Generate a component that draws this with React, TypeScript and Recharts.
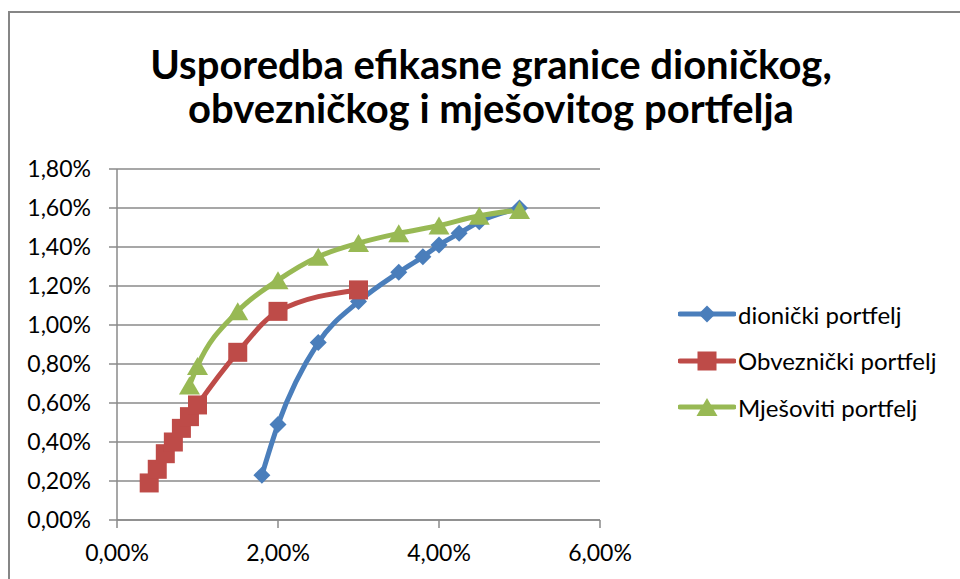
import { CartesianGrid, Line, LineChart, XAxis, YAxis } from 'recharts';

const xTicks = [0, 2, 4, 6];
const yTicks = [0, 0.2, 0.4, 0.6, 0.8, 1.0, 1.2, 1.4, 1.6, 1.8];

// rizik (x) i prinos (y), u postocima
const dionickiX = [1.8, 2.0, 2.5, 3.0, 3.5, 3.8, 4.0, 4.25, 4.5, 5.0];
const dionickiY = [0.23, 0.49, 0.91, 1.12, 1.27, 1.35, 1.41, 1.47, 1.53, 1.6];

const obveznickiX = [0.4, 0.5, 0.6, 0.7, 0.8, 0.9, 1.0, 1.5, 2.0, 3.0];
const obveznickiY = [0.19, 0.26, 0.34, 0.4, 0.47, 0.53, 0.59, 0.86, 1.07, 1.18];

const mjesovitiX = [0.9, 1.0, 1.5, 2.0, 2.5, 3.0, 3.5, 4.0, 4.5, 5.0];
const mjesovitiY = [0.69, 0.79, 1.07, 1.23, 1.35, 1.42, 1.47, 1.51, 1.56, 1.59];

const toPoints = (xs: number[], ys: number[]) => xs.map((x, i) => ({ x, y: ys[i] }));

const BLUE = '#4a7ebb';
const RED = '#be4b48';
const GREEN = '#98b954';
const GRID = '#8a8a8a';
const FONT = 'Lato, "Open Sans", sans-serif';

const fmt = (v: number) => v.toFixed(2).replace('.', ',') + '%';

type Shape = 'diamond' | 'square' | 'triangle';

function Marker({ cx, cy, shape, color }: { cx: number; cy: number; shape: Shape; color: string }) {
  if (cx == null || cy == null) return null;
  if (shape === 'diamond') {
    const r = 8.5;
    return <path d={`M${cx},${cy - r}L${cx + r},${cy}L${cx},${cy + r}L${cx - r},${cy}Z`} fill={color} />;
  }
  if (shape === 'square') {
    const r = 9.5;
    return <rect x={cx - r} y={cy - r} width={r * 2} height={r * 2} fill={color} />;
  }
  const w = 10.5;
  const h = 9;
  return <path d={`M${cx},${cy - h}L${cx + w},${cy + h}L${cx - w},${cy + h}Z`} fill={color} />;
}

const series = [
  { name: 'dionički portfelj', color: BLUE, shape: 'diamond' as Shape, data: toPoints(dionickiX, dionickiY) },
  { name: 'Obveznički portfelj', color: RED, shape: 'square' as Shape, data: toPoints(obveznickiX, obveznickiY) },
  { name: 'Mješoviti portfelj', color: GREEN, shape: 'triangle' as Shape, data: toPoints(mjesovitiX, mjesovitiY) },
];

function LegendBox() {
  return (
    <div style={{ position: 'absolute', left: 678, top: 291, fontFamily: FONT, fontSize: 24, color: '#000' }}>
      {series.map((s) => (
        <div key={s.name} style={{ display: 'flex', alignItems: 'center', height: 46.5 }}>
          <svg width={58} height={24} style={{ marginRight: 2 }}>
            <line x1={2} y1={12} x2={56} y2={12} stroke={s.color} strokeWidth={5} strokeLinecap="round" />
            <Marker cx={29} cy={12} shape={s.shape} color={s.color} />
          </svg>
          <span>{s.name}</span>
        </div>
      ))}
    </div>
  );
}

export default function App() {
  return (
    <div style={{ position: 'fixed', left: 0, top: 0, width: 960, height: 579, overflow: 'hidden', background: '#fff' }}>
      <div
        style={{
          position: 'absolute',
          left: 8,
          top: 11,
          width: 1100,
          height: 700,
          borderLeft: '2px solid #868686',
          borderTop: '2px solid #868686',
        }}
      />
      <div
        style={{
          position: 'absolute',
          left: 0,
          top: 42,
          width: 982,
          textAlign: 'center',
          fontFamily: FONT,
          fontWeight: 'bold',
          fontSize: 40,
          lineHeight: '44px',
          color: '#000',
        }}
      >
        Usporedba efikasne granice dioničkog,
        <br />
        obvezničkog i mješovitog portfelja
      </div>
      <div style={{ position: 'absolute', left: 0, top: 0 }}>
        <LineChart width={960} height={579} margin={{ top: 169, right: 360, bottom: 19, left: 0 }}>
          <CartesianGrid vertical={false} stroke={GRID} strokeWidth={1.5} />
          <XAxis
            dataKey="x"
            type="number"
            domain={[0, 6]}
            ticks={xTicks}
            interval={0}
            tickFormatter={fmt}
            height={40}
            stroke={GRID}
            strokeWidth={1.5}
            tickSize={8}
            tickMargin={17}
            tick={{ fill: '#000', fontFamily: FONT, fontSize: 23 }}
            allowDuplicatedCategory={false}
          />
          <YAxis
            type="number"
            dataKey="y"
            domain={[0, 1.8]}
            ticks={yTicks}
            interval={0}
            tickFormatter={fmt}
            width={117}
            stroke={GRID}
            strokeWidth={1.5}
            tickSize={8}
            tickMargin={18}
            tick={{ fill: '#000', fontFamily: FONT, fontSize: 23 }}
          />
          {series.map((s) => (
            <Line
              key={s.name}
              data={s.data}
              dataKey="y"
              name={s.name}
              type="monotone"
              stroke={s.color}
              strokeWidth={5}
              isAnimationActive={false}
              dot={(p: any) => <Marker key={`${s.name}-${p.index}`} cx={p.cx} cy={p.cy} shape={s.shape} color={s.color} />}
              activeDot={false}
            />
          ))}
        </LineChart>
      </div>
      <LegendBox />
    </div>
  );
}
